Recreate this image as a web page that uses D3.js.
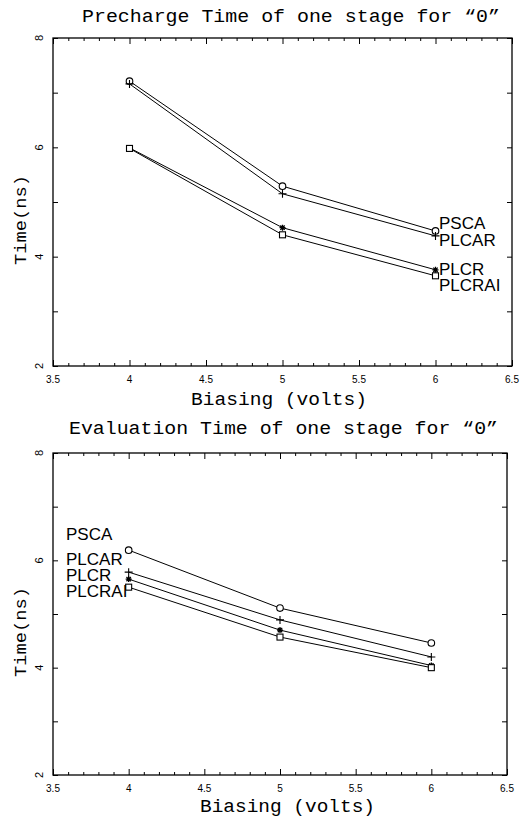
<!DOCTYPE html>
<html><head><meta charset="utf-8">
<script src="https://cdn.jsdelivr.net/npm/d3@7/dist/d3.min.js"></script>
<style>body{margin:0;background:#fff}svg{display:block}</style>
</head><body>
<script>
// ---- data ----
const xValues = [4, 5, 6];
const seriesNames = ["PSCA", "PLCAR", "PLCR", "PLCRAI"];
const markerTypes = ["circle", "plus", "star", "square"];
const prechargePSCA   = [7.21, 5.29, 4.47];
const prechargePLCAR  = [7.16, 5.15, 4.38];
const prechargePLCR   = [5.99, 4.53, 3.76];
const prechargePLCRAI = [5.98, 4.40, 3.65];
const evalPSCA   = [6.19, 5.11, 4.46];
const evalPLCAR  = [5.78, 4.89, 4.20];
const evalPLCR   = [5.65, 4.70, 4.04];
const evalPLCRAI = [5.50, 4.57, 4.00];
const xTickLabels = ["3.5", "4", "4.5", "5", "5.5", "6", "6.5"];
const yTickLabels = ["2", "4", "6", "8"];
const titles = ["Precharge Time of one stage for \u201c0\u201d", "Evaluation Time of one stage for \u201c0\u201d"];
const xTitle = "Biasing (volts)";
const yTitle = "Time(ns)";

const W = 523, H = 819;
const svg = d3.select("body").append("svg").attr("width", W).attr("height", H);
const mono = "'Liberation Mono', 'Courier New', monospace";
const sans = "'Liberation Sans', Arial, sans-serif";

function drawPanel(p) {
  const x = d3.scaleLinear().domain([3.5, 6.5]).range([p.left, p.right]);
  const y = d3.scaleLinear().domain([2, 8]).range([p.bottom, p.top]);
  const g = svg.append("g");

  g.append("text").attr("x", p.titleX).attr("y", p.titleY)
    .attr("font-family", mono).attr("font-size", 18)
    .attr("textLength", p.titleLen).attr("lengthAdjust", "spacingAndGlyphs")
    .text(p.title);

  const xMajor = d3.range(0, 7).map(i => 3.5 + i * 0.5);
  const xMinor = d3.range(1, 30).filter(i => i % 5 !== 0).map(i => 3.5 + i * 0.1);
  const yMajor = d3.range(2, 9);
  const fmtX = (d) => xTickLabels[Math.round((d - 3.5) * 2)];

  const bottom = d3.axisBottom(x).tickValues(xMajor).tickSizeInner(-6).tickSizeOuter(0).tickFormat("");
  const top = d3.axisTop(x).tickValues(xMajor).tickSizeInner(-6).tickSizeOuter(0).tickFormat("");
  const bottomMin = d3.axisBottom(x).tickValues(xMinor).tickSizeInner(-3).tickSizeOuter(0).tickFormat("");
  const topMin = d3.axisTop(x).tickValues(xMinor).tickSizeInner(-3).tickSizeOuter(0).tickFormat("");
  const left = d3.axisLeft(y).tickValues(yMajor).tickSizeInner(-5).tickSizeOuter(0).tickFormat("");
  const right = d3.axisRight(y).tickValues(yMajor).tickSizeInner(-5).tickSizeOuter(0).tickFormat("");

  const ax = [
    [bottom, `translate(0,${p.bottom})`], [bottomMin, `translate(0,${p.bottom})`],
    [top, `translate(0,${p.top})`], [topMin, `translate(0,${p.top})`],
    [left, `translate(${p.left},0)`], [right, `translate(${p.right},0)`]
  ];
  ax.forEach(([a, t]) => {
    const gg = g.append("g").attr("transform", t).call(a);
    gg.select(".domain").remove();
    gg.selectAll("line").attr("stroke", "#000").attr("stroke-width", 1);
  });

  g.append("rect").attr("x", p.left).attr("y", p.top)
    .attr("width", p.right - p.left).attr("height", p.bottom - p.top)
    .attr("fill", "none").attr("stroke", "#000").attr("stroke-width", 1.3);

  g.selectAll(".xl").data(xMajor).enter().append("text")
    .attr("x", d => x(d)).attr("y", p.bottom + 17)
    .attr("text-anchor", "middle").attr("font-family", sans).attr("font-size", 10)
    .text(fmtX);

  g.selectAll(".yl").data(yTickLabels).enter().append("text")
    .attr("transform", d => `translate(${p.left - 10},${y(+d)}) rotate(-90)`)
    .attr("text-anchor", "middle").attr("font-family", sans).attr("font-size", 11)
    .text(d => d);

  g.append("text").attr("x", p.xTitleX).attr("y", p.xTitleY)
    .attr("font-family", mono).attr("font-size", 18)
    .attr("textLength", p.xTitleLen).attr("lengthAdjust", "spacingAndGlyphs")
    .text(xTitle);
  g.append("text").attr("transform", `translate(${p.yTitleX},${p.yTitleY}) rotate(-90)`)
    .attr("font-family", mono).attr("font-size", 17).attr("text-anchor", "middle")
    .attr("textLength", 90).attr("lengthAdjust", "spacingAndGlyphs")
    .text(yTitle);

  const line = d3.line().x((d, i) => x(xValues[i])).y(d => y(d));
  p.series.forEach((vals, si) => {
    g.append("path").attr("d", line(vals)).attr("fill", "none")
      .attr("stroke", "#000").attr("stroke-width", 1);
    vals.forEach((v, i) => {
      const cx = x(xValues[i]), cy = y(v);
      const m = markerTypes[si];
      if (m === "circle") {
        g.append("circle").attr("cx", cx).attr("cy", cy).attr("r", 3.3)
          .attr("fill", "#fff").attr("stroke", "#000").attr("stroke-width", 1.1);
      } else if (m === "square") {
        g.append("rect").attr("x", cx - 3).attr("y", cy - 3).attr("width", 6).attr("height", 6)
          .attr("fill", "#fff").attr("stroke", "#000").attr("stroke-width", 1.1);
      } else if (m === "plus") {
        g.append("path").attr("d", `M${cx - 4},${cy}H${cx + 4}M${cx},${cy - 4}V${cy + 4}`)
          .attr("stroke", "#000").attr("stroke-width", 1.1);
      } else {
        g.append("path").attr("d", `M${cx - 3},${cy}H${cx + 3}M${cx},${cy - 3}V${cy + 3}M${cx - 2.2},${cy - 2.2}L${cx + 2.2},${cy + 2.2}M${cx - 2.2},${cy + 2.2}L${cx + 2.2},${cy - 2.2}`)
          .attr("stroke", "#000").attr("stroke-width", 1.3);
      }
    });
  });

  seriesNames.forEach((n, i) => {
    g.append("text").attr("x", p.labelX).attr("y", p.labelY[i])
      .attr("font-family", sans).attr("font-size", 17).text(n);
  });
}

drawPanel({
  left: 53, right: 512, top: 38, bottom: 366,
  title: titles[0], titleX: 82, titleY: 22, titleLen: 418,
  xTitleX: 191, xTitleY: 405, xTitleLen: 176,
  yTitleX: 26, yTitleY: 220,
  series: [prechargePSCA, prechargePLCAR, prechargePLCR, prechargePLCRAI],
  labelX: 439, labelY: [229, 246, 275, 291]
});
drawPanel({
  left: 53, right: 507, top: 453, bottom: 775,
  title: titles[1], titleX: 69, titleY: 434, titleLen: 429,
  xTitleX: 200, xTitleY: 812, xTitleLen: 175,
  yTitleX: 26, yTitleY: 632,
  series: [evalPSCA, evalPLCAR, evalPLCR, evalPLCRAI],
  labelX: 66, labelY: [540, 565, 581, 597]
});
</script>
</body></html>
